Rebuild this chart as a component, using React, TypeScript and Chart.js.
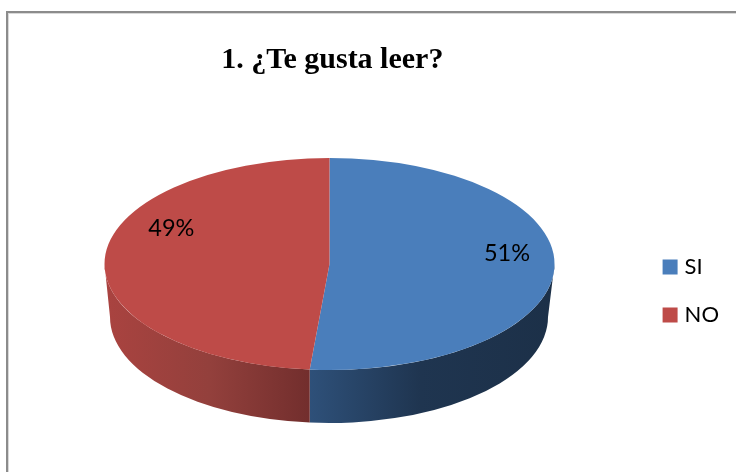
import React, { useEffect, useRef } from "react";
import { Chart, registerables } from "chart.js";

Chart.register(...registerables);

const titleText = "1. ¿Te gusta leer?";
const categories = ["SI", "NO"];
const seriesValues = [51.4, 48.6];
const sliceColors = ["#4a7ebb", "#be4b48"];

const TOP = { cx: 329.5, cy: 264, rx: 225, ry: 106 };
const BASE = { cx: 329, cy: 317, rx: 219, ry: 106 };
const wallStops = [
  [[310, "#2e5079"], [420, "#1f3550"], [555, "#1c3048"]],
  [[104, "#aa4340"], [210, "#93403c"], [310, "#722e2d"]],
] as const;
const labelAnchors = [
  { fx: 0.789, fy: -0.104 },
  { fx: -0.703, fy: -0.34 },
];

const pie3d = {
  id: "pie3d",
  beforeDraw(chart: any) {
    const { ctx, width, height } = chart;
    ctx.save();
    ctx.fillStyle = "#ffffff";
    ctx.fillRect(0, 0, width, height);
    ctx.fillStyle = "#8c8c8c";
    ctx.fillRect(6, 11, width, 2);
    ctx.fillRect(6, 11, 2, height);
    ctx.fillStyle = "#d9d9d9";
    ctx.fillRect(8, 13, width, 1);
    ctx.fillRect(8, 13, 1, height);
    ctx.restore();
  },
  beforeDatasetsDraw(chart: any) {
    const { ctx } = chart;
    chart.getDatasetMeta(0).data.forEach((arc: any, i: number) => {
      const a0 = Math.max(arc.startAngle, 0);
      const a1 = Math.min(arc.endAngle, Math.PI);
      if (a1 <= a0) return;
      const g = ctx.createLinearGradient(wallStops[i][0][0], 0, wallStops[i][2][0], 0);
      const span = wallStops[i][2][0] - wallStops[i][0][0];
      wallStops[i].forEach(([x, c]) => g.addColorStop((x - wallStops[i][0][0]) / span, c));
      ctx.save();
      ctx.fillStyle = g;
      ctx.beginPath();
      ctx.ellipse(TOP.cx, TOP.cy, TOP.rx, TOP.ry, 0, a0, a1);
      ctx.ellipse(BASE.cx, BASE.cy, BASE.rx, BASE.ry, 0, a1, a0, true);
      ctx.closePath();
      ctx.fill();
      ctx.restore();
    });
  },
  beforeDatasetDraw(chart: any) {
    const { ctx } = chart;
    const arc = chart.getDatasetMeta(0).data[0];
    ctx.save();
    ctx.translate(TOP.cx, TOP.cy);
    ctx.scale(TOP.rx / arc.outerRadius, TOP.ry / arc.outerRadius);
    ctx.translate(-arc.x, -arc.y);
  },
  afterDatasetDraw(chart: any) {
    chart.ctx.restore();
  },
  afterDatasetsDraw(chart: any) {
    const { ctx } = chart;
    const total = seriesValues.reduce((a, b) => a + b, 0);
    ctx.save();
    ctx.fillStyle = "#000000";
    ctx.font = "23.5px Lato";
    ctx.textAlign = "center";
    ctx.textBaseline = "middle";
    seriesValues.forEach((v, i) => {
      const a = labelAnchors[i];
      ctx.fillText(
        `${Math.round((v / total) * 100)}%`,
        TOP.cx + a.fx * TOP.rx,
        TOP.cy + a.fy * TOP.ry
      );
    });
    ctx.restore();
  },
};

export default function App() {
  const ref = useRef<HTMLCanvasElement>(null);
  useEffect(() => {
    const chart = new Chart(ref.current as HTMLCanvasElement, {
      type: "pie",
      data: {
        labels: categories,
        datasets: [
          {
            data: seriesValues,
            backgroundColor: sliceColors,
            borderWidth: 0,
            clip: false,
          } as any,
        ],
      },
      options: {
        responsive: false,
        animation: false,
        layout: { padding: { left: 24, right: 7, top: 0, bottom: 0 } },
        plugins: {
          tooltip: { enabled: false },
          title: {
            display: true,
            text: titleText,
            fullSize: false,
            color: "#000000",
            font: { family: "'Liberation Serif'", size: 30, weight: "bold" },
            padding: { top: 42, bottom: 32 },
          },
          legend: {
            display: true,
            position: "right",
            fullSize: false,
            labels: {
              boxWidth: 7,
              boxHeight: 7,
              padding: 26,
              color: "#000000",
              font: { family: "Lato", size: 22 },
              generateLabels(c: any) {
                return (Chart.overrides.pie.plugins.legend.labels as any)
                  .generateLabels(c)
                  .map((l: any) => ({ ...l, lineWidth: 8, strokeStyle: l.fillStyle }));
              },
            },
          },
        },
      },
      plugins: [pie3d],
    } as any);
    return () => chart.destroy();
  }, []);
  return (
    <canvas
      ref={ref}
      width={736}
      height={472}
      style={{ position: "absolute", left: 0, top: 0, display: "block" }}
    />
  );
}
